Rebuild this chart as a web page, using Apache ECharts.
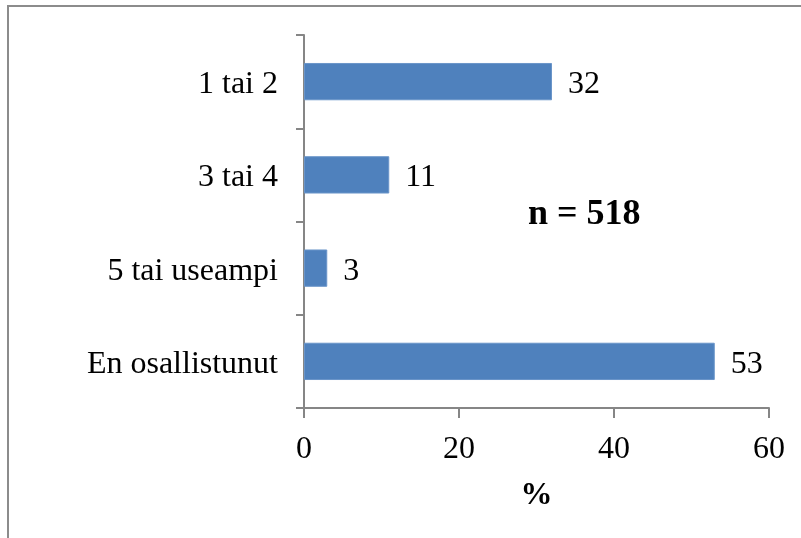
<!DOCTYPE html>
<html>
<head>
<meta charset="utf-8">
<script src="https://cdn.jsdelivr.net/npm/echarts@6/dist/echarts.min.js"></script>
<style>
  html, body { margin: 0; padding: 0; background: #ffffff; }
  #chart { width: 801px; height: 538px; }
</style>
</head>
<body>
<div id="chart"></div>
<script>
// Osallistumiskerrat, top to bottom
const categories = ['1 tai 2', '3 tai 4', '5 tai useampi', 'En osallistunut'];
const percentValues = [32, 11, 3, 53];
const xTicks = { min: 0, max: 60, interval: 20 };
const axisTitle = '%';
const sampleNote = 'n = 518';

const serif = '"Liberation Serif", "Times New Roman", serif';
const axisGrey = '#868686';

const chart = echarts.init(document.getElementById('chart'), null, { renderer: 'canvas' });

chart.setOption({
  backgroundColor: '#ffffff',
  animation: false,
  grid: { left: 304, right: 32, top: 35, bottom: 130, containLabel: false },
  xAxis: {
    type: 'value',
    min: xTicks.min,
    max: xTicks.max,
    interval: xTicks.interval,
    name: axisTitle,
    nameLocation: 'middle',
    nameGap: 72,
    nameTextStyle: { fontFamily: serif, fontSize: 32, fontWeight: 'bold', color: '#000' },
    axisLine: { show: true, lineStyle: { color: axisGrey, width: 2 } },
    axisTick: { show: true, inside: false, length: 10, lineStyle: { color: axisGrey, width: 2 } },
    axisLabel: { fontFamily: serif, fontSize: 32, color: '#000', margin: 26 },
    splitLine: { show: false }
  },
  yAxis: {
    type: 'category',
    inverse: true,
    data: categories,
    axisLine: { show: true, lineStyle: { color: axisGrey, width: 2 } },
    axisTick: { show: true, inside: false, length: 8, alignWithLabel: false, lineStyle: { color: axisGrey, width: 2 } },
    axisLabel: {
      margin: 26,
      formatter: '{c|{value}}',
      rich: {
        c: { fontFamily: serif, fontSize: 32, color: '#000', padding: [6, 0, 0, 0] }
      }
    },
    splitLine: { show: false }
  },
  series: [{
    type: 'bar',
    data: percentValues,
    barWidth: '40%',
    itemStyle: { color: '#4f81bd', borderColor: '#6a95c9', borderWidth: 1 },
    label: {
      show: true,
      position: 'right',
      distance: 16,
      offset: [0, 3],
      fontFamily: serif,
      fontSize: 32,
      color: '#000'
    }
  }],
  graphic: [
    {
      type: 'rect',
      silent: true,
      shape: { x: 8, y: 6, width: 900, height: 700 },
      style: { fill: 'none', stroke: '#8c8c8c', lineWidth: 2 }
    },
    {
      type: 'text',
      silent: true,
      left: 528,
      top: 197,
      style: {
        text: sampleNote,
        fontFamily: serif,
        fontSize: 36,
        fontWeight: 'bold',
        fill: '#000'
      }
    }
  ]
});
</script>
</body>
</html>
